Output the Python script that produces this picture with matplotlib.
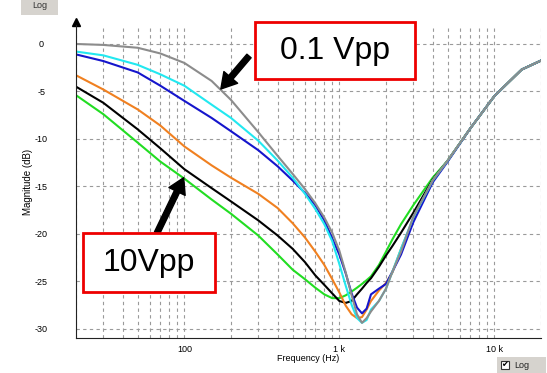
import numpy as np
import matplotlib
matplotlib.use("Agg")
import matplotlib.pyplot as plt
from matplotlib.patches import Rectangle
from matplotlib.ticker import LogLocator, NullFormatter

plt.rcParams['font.family'] = ['Liberation Sans', 'DejaVu Sans']

# frequency points (Hz)
freq = [20, 30, 50, 70, 100, 150, 200, 300, 400, 500, 600, 700, 800, 900,
        1000, 1100, 1200, 1300, 1400, 1500, 1600, 1800, 2000, 2200, 2500,
        3000, 4000, 5000, 7000, 10000, 15000, 20000]

# magnitude (dB) for each drive level
green = [-5.4, -7.4, -10.4, -12.4, -14.2, -16.4, -17.9, -20.2, -22.2, -23.8, -24.8, -25.7, -26.4, -26.8,
         -26.8, -26.5, -26.1, -25.7, -25.3, -24.9, -24.5, -23.3, -21.9, -20.6, -19.0,
         -17.0, -14.1, -12.3, -8.9, -5.5, -2.7, -1.75]
black = [-4.5, -6.2, -9.0, -11.0, -13.2, -15.2, -16.6, -18.6, -20.2, -21.6, -23.0, -24.4, -25.4, -26.3,
         -27.1, -27.3, -27.1, -26.4, -25.8, -25.2, -24.7, -23.5, -22.3, -21.3, -19.9,
         -17.8, -14.3, -12.3, -8.9, -5.5, -2.7, -1.75]
orange = [-3.3, -4.8, -6.9, -8.6, -10.8, -12.8, -14.1, -15.8, -17.3, -18.9, -20.4, -21.9, -23.3, -24.8,
          -26.2, -27.6, -28.5, -28.9, -28.8, -28.0, -27.1, -26.0, -25.2, -24.1, -21.6,
          -18.5, -14.4, -12.3, -8.9, -5.5, -2.7, -1.75]
blue = [-1.1, -1.8, -3.0, -4.4, -6.0, -7.8, -9.2, -11.2, -12.9, -14.4, -15.7, -17.0, -18.6, -20.5,
        -22.2, -24.2, -26.3, -27.8, -28.4, -27.9, -26.4, -25.8, -25.3, -24.0, -22.2,
        -18.8, -14.6, -12.4, -8.9, -5.5, -2.7, -1.75]
cyan = [-0.8, -1.2, -2.2, -3.2, -4.4, -6.4, -7.8, -10.2, -12.3, -14.1, -15.8, -17.4, -19.0, -20.8,
        -23.2, -25.5, -27.5, -28.9, -29.4, -29.1, -28.0, -27.1, -25.8, -24.0, -21.6,
        -18.3, -14.4, -12.3, -8.9, -5.5, -2.7, -1.75]
gray = [0.0, -0.1, -0.4, -1.0, -2.0, -3.9, -5.9, -9.3, -11.8, -13.7, -15.3, -16.8, -18.3, -19.9,
        -21.8, -24.1, -26.5, -28.5, -29.4, -28.9, -28.2, -27.1, -25.8, -24.0, -21.9,
        -18.2, -14.4, -12.3, -8.9, -5.5, -2.7, -1.75]

yticks = [0, -5, -10, -15, -20, -25, -30]
xticks = [100, 1000, 10000]
xticklabels = ['100', '1 k', '10 k']

W, H = 547, 373
fig = plt.figure(figsize=(W / 100, H / 100), dpi=100)
ax = fig.add_axes([76 / W, 1 - 338 / H, (541 - 76) / W, (338 - 25) / H])

ax.plot(freq, green, color='#22dd22', lw=1.5)
ax.plot(freq, black, color='black', lw=1.5)
ax.plot(freq, orange, color='#f08020', lw=1.5)
ax.plot(freq, blue, color='#1515cc', lw=1.5)
ax.plot(freq, cyan, color='#22e8f0', lw=1.5)
ax.plot(freq, gray, color='#8c8c8c', lw=1.5)

ax.set_xscale('log')
ax.set_xlim(20, 20000)
ax.set_ylim(-31, 2)
ax.set_xticks(xticks)
ax.set_xticklabels(xticklabels)
ax.xaxis.set_minor_locator(LogLocator(base=10, subs=np.arange(2, 10)))
ax.xaxis.set_minor_formatter(NullFormatter())
ax.set_yticks(yticks)
ax.set_yticklabels([str(v) for v in yticks])

ax.grid(which='both', axis='x', linestyle=(0, (3, 3)), color='#9a9a9a', lw=0.8)
ax.grid(which='major', axis='y', linestyle=(0, (3, 3)), color='#9a9a9a', lw=0.8)
ax.set_axisbelow(True)

ax.tick_params(which='both', length=0, labelsize=6.5)
ax.tick_params(axis='y', pad=25)
for lab in ax.get_yticklabels():
    lab.set_ha('center')
ax.tick_params(axis='x', pad=5)

for s in ['top', 'right']:
    ax.spines[s].set_visible(False)
ax.spines['left'].set_color('#222222')
ax.spines['bottom'].set_color('#222222')
ax.plot([0], [1.01], marker='^', color='black', ms=6, transform=ax.transAxes, clip_on=False)

ax.set_xlabel('Frequency (Hz)', fontsize=6.5, labelpad=0)
ax.set_ylabel('Magnitude (dB)', fontsize=7, labelpad=1)


def px(x, y):
    return x / W, 1 - y / H


# annotation boxes
for (x0, y0, x1, y1, txt) in [(255, 22, 415, 79, '0.1 Vpp'), (83, 233, 215, 292, '10Vpp')]:
    fx0, fy1 = px(x0, y0)
    fx1, fy0 = px(x1, y1)
    fig.patches.append(Rectangle((fx0, fy0), fx1 - fx0, fy1 - fy0, transform=fig.transFigure,
                                 facecolor='white', edgecolor='#ee0000', lw=2, zorder=5))
    fig.text((fx0 + fx1) / 2, (fy0 + fy1) / 2, txt, ha='center', va='center', fontsize=23, zorder=6)

arrow = dict(facecolor='black', edgecolor='black', width=4, headwidth=13, headlength=11, shrink=0)
ax.annotate('', xy=(172, -4.75), xytext=px(249, 56), textcoords='figure fraction', arrowprops=arrow)
ax.annotate('', xy=(99, -14.1), xytext=px(157, 233), textcoords='figure fraction', arrowprops=arrow)

# GUI buttons
bx0, by1 = px(21, 0)
bx1, by0 = px(58, 15)
fig.patches.append(Rectangle((bx0, by0), bx1 - bx0, by1 - by0, transform=fig.transFigure,
                             facecolor='#d6d3ce', edgecolor='none'))
fig.text((bx0 + bx1) / 2, px(0, 5.5)[1], 'Log', ha='center', va='center', fontsize=6.5, color='#333333')

cx0, cy1 = px(497, 357)
cx1, cy0 = px(546, 373)
fig.patches.append(Rectangle((cx0, cy0), cx1 - cx0, cy1 - cy0, transform=fig.transFigure,
                             facecolor='#d6d3ce', edgecolor='none'))
kx0, ky1 = px(501, 361)
kx1, ky0 = px(509, 369)
fig.patches.append(Rectangle((kx0, ky0), kx1 - kx0, ky1 - ky0, transform=fig.transFigure,
                             facecolor='white', edgecolor='#333333', lw=0.8))
fig.text((kx0 + kx1) / 2, (ky0 + ky1) / 2, '✔', ha='center', va='center', fontsize=6,
         family=['DejaVu Sans'])
fig.text(px(514, 0)[0], (ky0 + ky1) / 2, 'Log', ha='left', va='center', fontsize=6.5, color='#222222')

fig.savefig('out.png', dpi=100)
